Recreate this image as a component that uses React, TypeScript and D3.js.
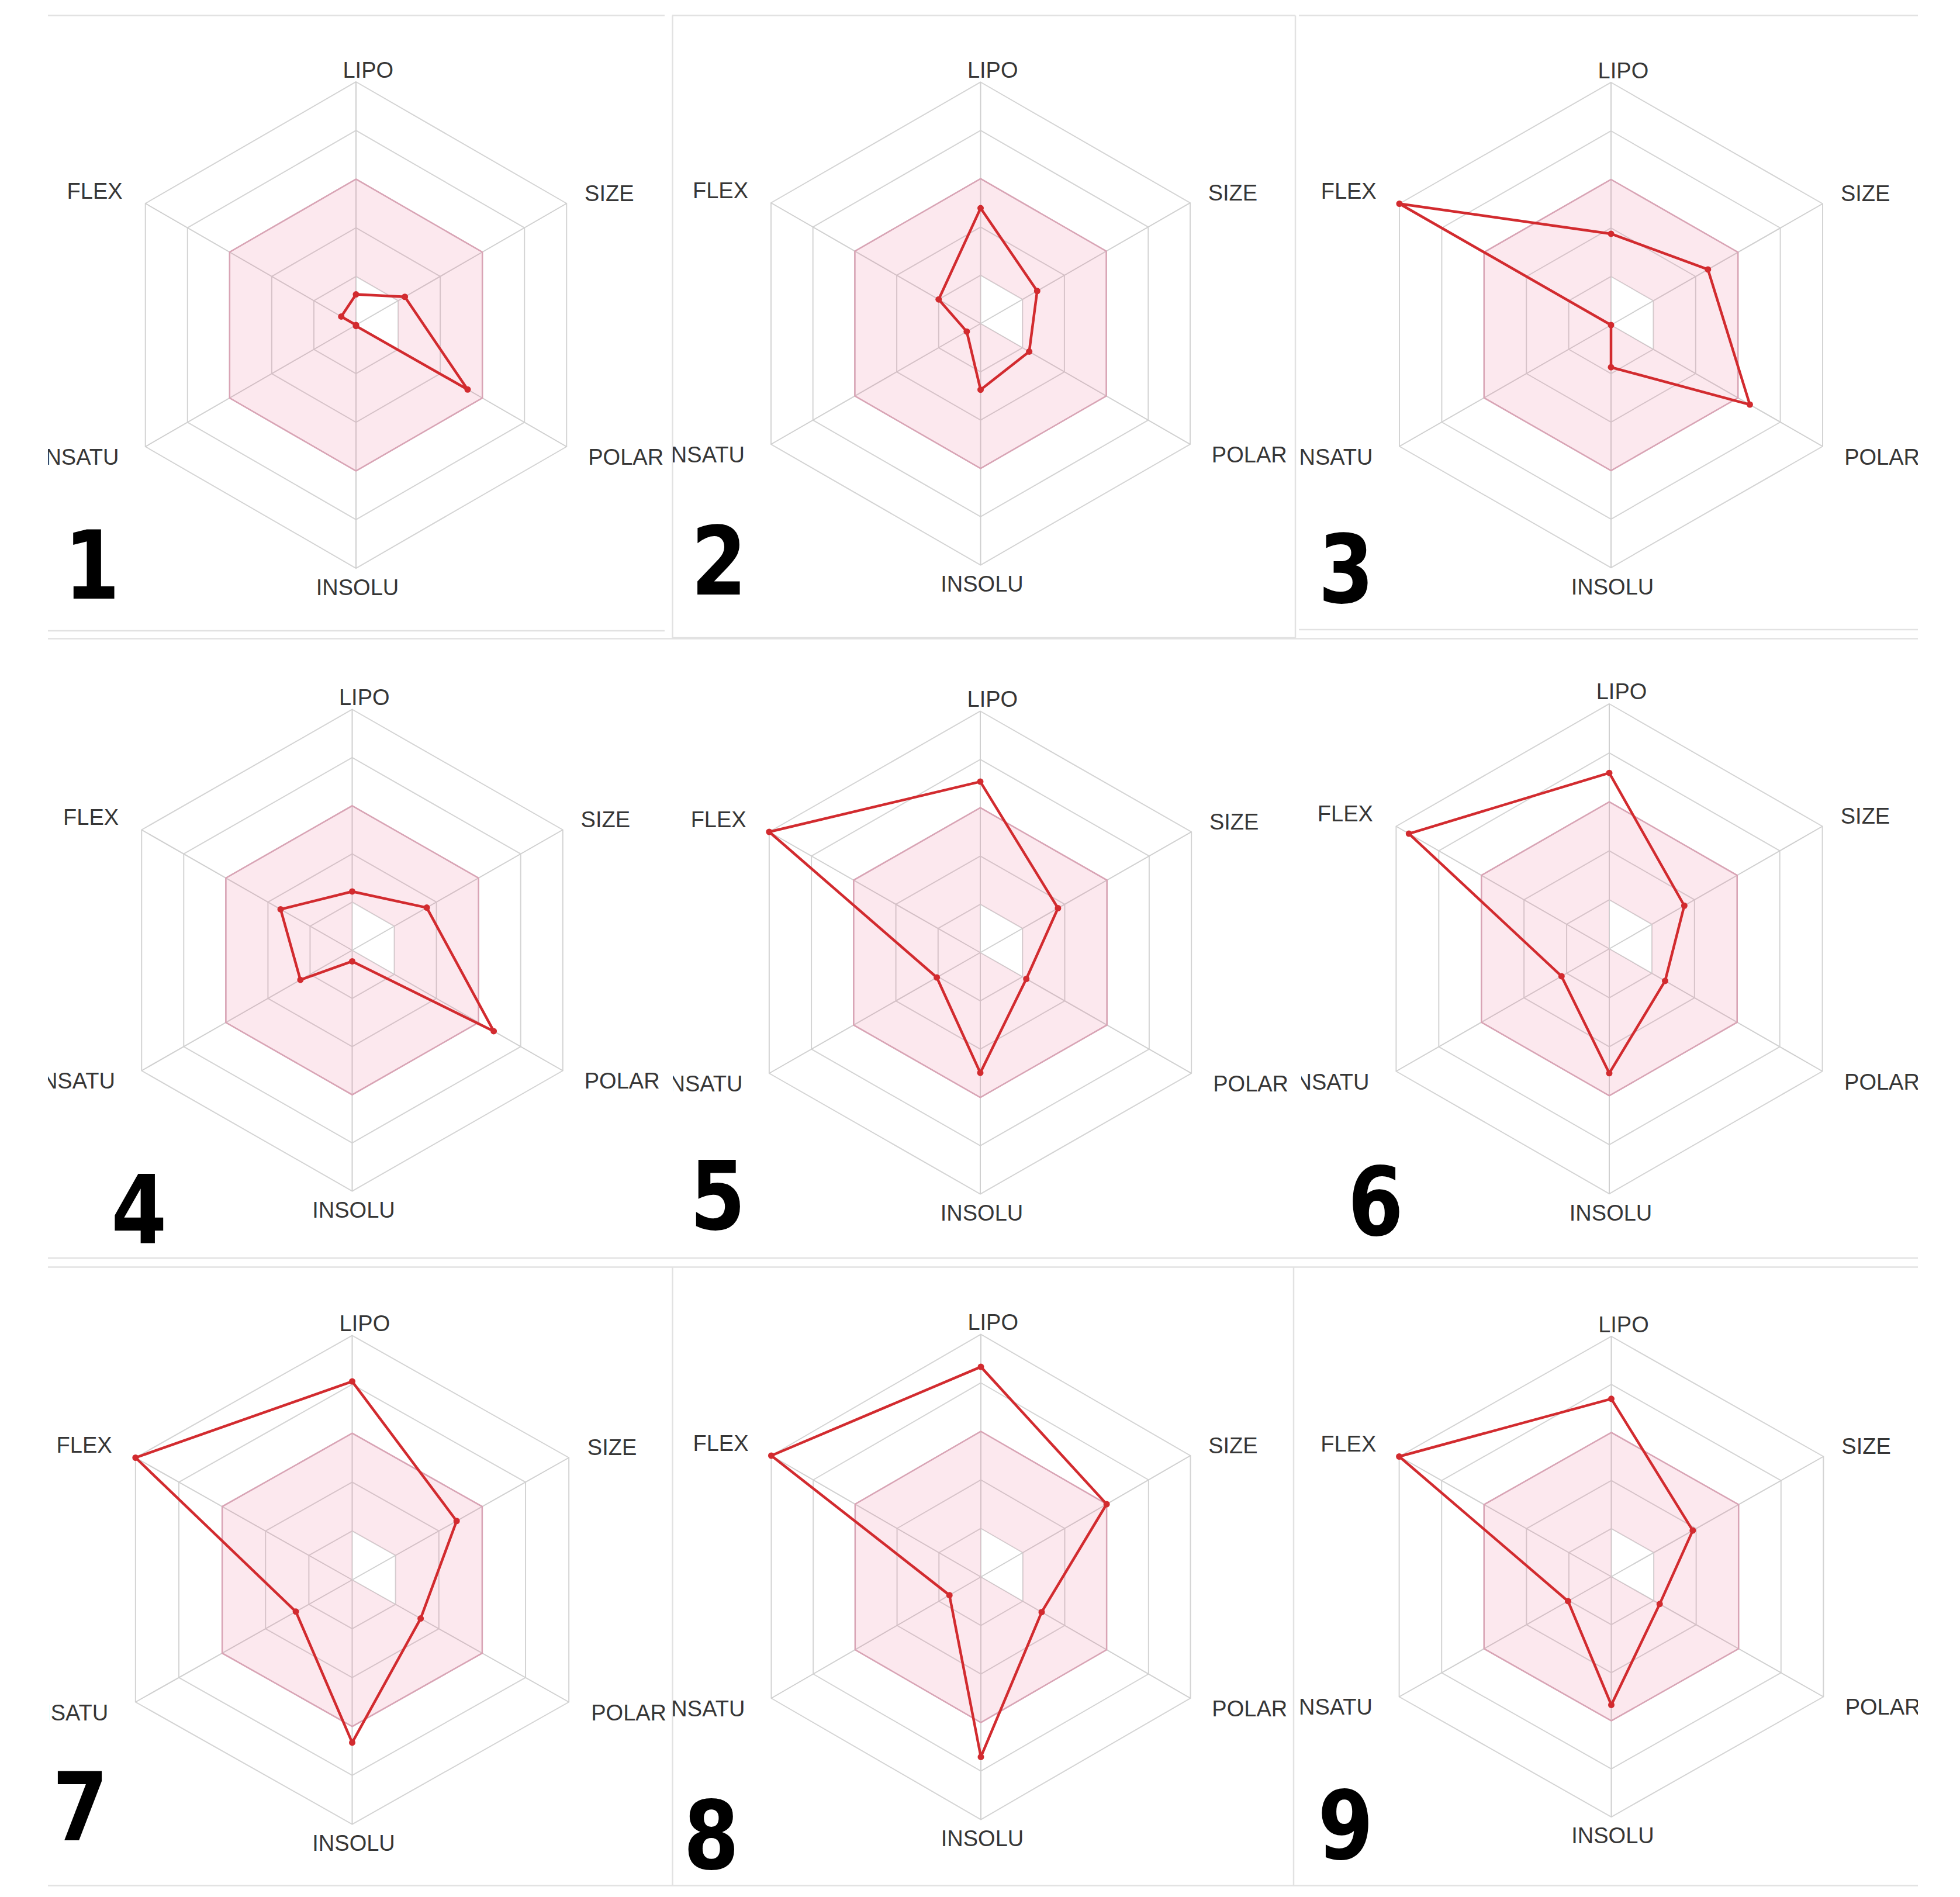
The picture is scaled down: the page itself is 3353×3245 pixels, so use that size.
import React from "react";
import * as d3 from "d3";

// Axis names of the bioavailability radar
const AXES = ["LIPO", "SIZE", "POLAR", "INSOLU", "INSATU", "FLEX"];
const PANEL_NUMBERS = ["1", "2", "3", "4", "5", "6", "7", "8", "9"];

// Values in grid-ring units (0..5), one entry per panel 1..9
const LIPO = [0.63, 2.39, 1.88, 1.22, 3.54, 3.59, 4.06, 4.33, 3.7];
const SIZE = [1.16, 1.35, 2.29, 1.77, 1.84, 1.76, 2.41, 3.0, 1.92];
const POLAR = [2.65, 1.16, 3.28, 3.36, 1.09, 1.31, 1.58, 1.45, 1.14];
const INSOLU = [0.02, 1.37, 0.87, 0.23, 2.49, 2.54, 3.33, 3.71, 2.67];
const INSATU = [0.0, 0.33, 0.0, 1.23, 1.03, 1.12, 1.3, 0.75, 1.02];
const FLEX = [0.35, 1.0, 5.0, 1.7, 5.0, 4.7, 5.0, 5.0, 5.0];

// Optimal (pink) range per axis in ring units
const PINK_INNER = [1, 1, 1, 0, 0, 0];
const PINK_OUTER = [3, 3, 3, 3, 3, 3];
const RING_LEVELS = [1, 2, 3, 4, 5];

// Layout of the nine screenshots (positions only)
const PANELS = [
  { cx: 609, cy: 556, rx: 416, ry: 416, clip: [82, 1137, 27, 1079], num: [157.5, 1024] },
  { cx: 1677.5, cy: 553.5, rx: 414, ry: 413, clip: [1151, 2216, 27, 1091], num: [1230, 1017] },
  { cx: 2756, cy: 556, rx: 418, ry: 415, clip: [2223, 3281, 27, 1077], num: [2303, 1031] },
  { cx: 602.5, cy: 1625.5, rx: 416, ry: 412, clip: [82, 1140, 1093, 2151], num: [238, 2127] },
  { cx: 1677, cy: 1629.5, rx: 417, ry: 413, clip: [1151, 2216, 1093, 2152], num: [1228, 2103] },
  { cx: 2753, cy: 1623, rx: 421, ry: 419, clip: [2226, 3281, 1093, 2151], num: [2353.5, 2113] },
  { cx: 602.5, cy: 2702.5, rx: 428, ry: 418, clip: [84, 1140, 2168, 3225], num: [137.5, 3148] },
  { cx: 1678, cy: 2697.5, rx: 414, ry: 415, clip: [1151, 2213, 2168, 3225], num: [1217, 3197] },
  { cx: 2756.5, cy: 2697, rx: 419, ry: 411, clip: [2224, 3281, 2168, 3225], num: [2302, 3180] },
];

const LABEL_POS = [
  { dx: 0.05, dy: -1.018, anchor: "middle" },
  { dx: 0.94, dy: -0.51, anchor: "start" },
  { dx: 0.955, dy: 0.575, anchor: "start" },
  { dx: 0.006, dy: 1.11, anchor: "middle" },
  { dx: -0.975, dy: 0.575, anchor: "end" },
  { dx: -0.96, dy: -0.52, anchor: "end" },
];

// Frame lines of the composite (horizontal: y, x0, x1; vertical: x, y0, y1)
const H_LINES = [
  [26.5, 82, 1137], [26.5, 1150, 2216], [26.5, 2222, 3281],
  [1079, 82, 1137], [1091, 1150, 2216], [1077, 2222, 3281],
  [1092.5, 82, 3281], [2152, 82, 3281], [2167.5, 82, 3281], [3225.5, 82, 3281],
];
const V_LINES = [
  [1150.5, 26.5, 1091], [2216, 26.5, 1091],
  [1150.5, 2167.5, 3225.5], [2213, 2167.5, 3225.5],
];

const W = 3353;
const H = 3245;
const angle = d3.scaleLinear().domain([0, AXES.length]).range([0, 2 * Math.PI]);

function Panel({ i }: { i: number }) {
  const p = PANELS[i];
  const rX = d3.scaleLinear().domain([0, 5]).range([0, p.rx]);
  const rY = d3.scaleLinear().domain([0, 5]).range([0, p.ry]);
  const pt = (k: number, v: number): [number, number] => [
    p.cx + rX(v) * Math.sin(angle(k)),
    p.cy - rY(v) * Math.cos(angle(k)),
  ];
  const closed = d3.line().curve(d3.curveLinearClosed);
  const ring = (vals: number[]) => closed(vals.map((v, k) => pt(k, v))) as string;
  const values = [LIPO[i], SIZE[i], POLAR[i], INSOLU[i], INSATU[i], FLEX[i]];
  const pts = values.map((v, k) => pt(k, v));
  const [x0, x1, y0, y1] = p.clip;
  const clipId = `clip${i}`;
  return (
    <g>
      <defs>
        <clipPath id={clipId}>
          <rect x={x0} y={y0} width={x1 - x0} height={y1 - y0} />
        </clipPath>
      </defs>
      <g clipPath={`url(#${clipId})`}>
        {RING_LEVELS.map((l) => (
          <path key={l} d={ring(AXES.map(() => l))} fill="none" stroke="#d4d4d4" strokeWidth={2} />
        ))}
        {AXES.map((a, k) => {
          const [ex, ey] = pt(k, 5);
          return <line key={a} x1={p.cx} y1={p.cy} x2={ex} y2={ey} stroke="#d0d0d0" strokeWidth={2} />;
        })}
        <path
          d={ring(PINK_OUTER) + ring(PINK_INNER)}
          fill="rgba(235,100,140,0.15)"
          fillRule="evenodd"
          stroke="none"
        />
        <path d={ring(PINK_OUTER)} fill="none" stroke="#d9a4b5" strokeWidth={2.5} />
        <path d={closed(pts) as string} fill="none" stroke="#d22b2f" strokeWidth={4.5} strokeLinejoin="round" />
        {pts.map(([x, y], k) => (
          <circle key={k} cx={x} cy={y} r={5.5} fill="#d22b2f" />
        ))}
        {AXES.map((a, k) => (
          <text
            key={a}
            x={p.cx + LABEL_POS[k].dx * p.rx}
            y={p.cy + LABEL_POS[k].dy * p.ry}
            textAnchor={LABEL_POS[k].anchor as any}
            fontFamily="'Liberation Sans', Arial, sans-serif"
            fontSize={38}
            fill="#363636"
          >
            {a}
          </text>
        ))}
      </g>
      <text
        transform={`translate(${p.num[0]},${p.num[1]}) scale(0.84,1)`}
        textAnchor="middle"
        fontFamily="'DejaVu Sans', sans-serif"
        fontWeight="bold"
        fontSize={163}
        fill="#000"
      >
        {PANEL_NUMBERS[i]}
      </text>
    </g>
  );
}

export default function App() {
  return (
    <div style={{ position: "absolute", left: 0, top: 0 }}>
      <svg width={W} height={H} viewBox={`0 0 ${W} ${H}`} style={{ display: "block", background: "#fff" }}>
        <rect x={0} y={0} width={W} height={H} fill="#fff" />
        {H_LINES.map(([y, xa, xb], k) => (
          <line key={`h${k}`} x1={xa} x2={xb} y1={y} y2={y} stroke="#e2e2e2" strokeWidth={2.5} />
        ))}
        {V_LINES.map(([x, ya, yb], k) => (
          <line key={`v${k}`} x1={x} x2={x} y1={ya} y2={yb} stroke="#e2e2e2" strokeWidth={2.5} />
        ))}
        {PANELS.map((_, i) => (
          <Panel key={i} i={i} />
        ))}
      </svg>
    </div>
  );
}
